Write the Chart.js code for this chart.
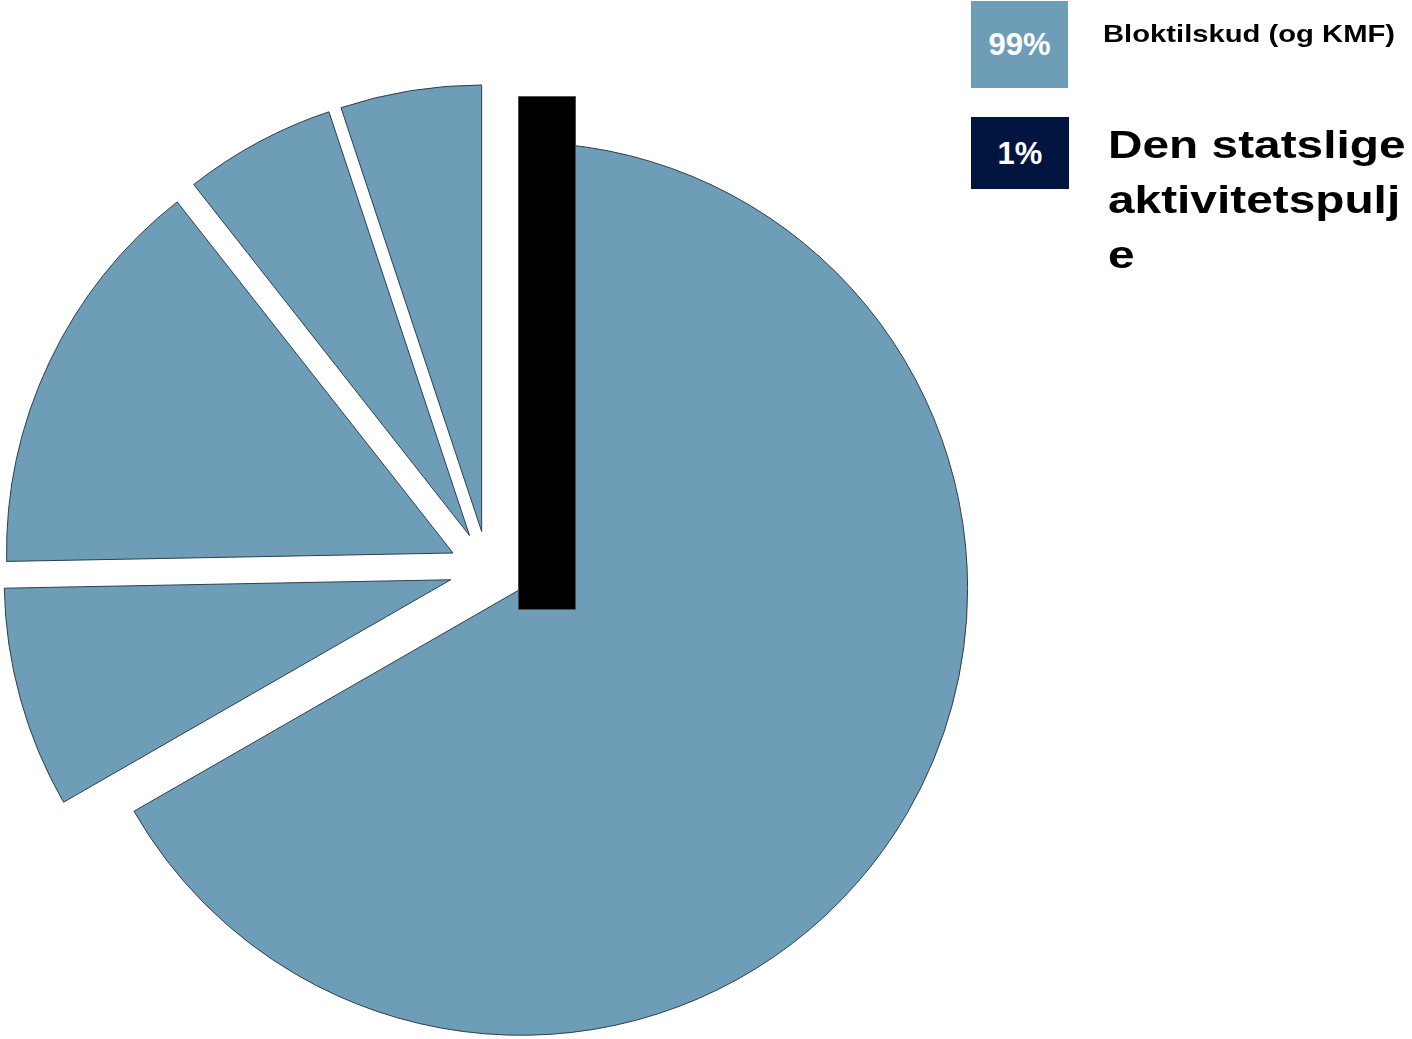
<!DOCTYPE html>
<html>
<head>
<meta charset="utf-8">
<script src="https://cdn.jsdelivr.net/npm/chart.js@4.4.1/dist/chart.umd.min.js"></script>
<style>
  html, body { margin: 0; padding: 0; background: #ffffff; }
  body { width: 1412px; height: 1039px; overflow: hidden; position: relative;
         font-family: "Liberation Sans", Arial, sans-serif; }
  #pie { position: absolute; left: 0; top: 0; }
  #pool { position: absolute; left: 518px; top: 96px; }
  .sq { position: absolute; display: flex; align-items: center; justify-content: center;
        color: #ffffff; font-weight: bold; font-size: 31px; line-height: 1; }
  .lbl { position: absolute; font-weight: bold; color: #000000; transform-origin: 0 0;
         overflow-wrap: anywhere; word-break: break-word; }
</style>
</head>
<body>
<canvas id="pie" width="1412" height="1039"></canvas>
<canvas id="pool" width="58" height="514"></canvas>
<div id="legend"></div>
<script>
// ---- data ----
const sliceLabels = ['Del 1', 'Del 2', 'Del 3', 'Del 4', 'Del 5'];
const sliceValues = [66.7, 8.0, 14.7, 5.5, 5.1];
const poolLabels = ['Den statslige aktivitetspulje'];
const poolValues = [1];
const legendLabels = ['Bloktilskud (og KMF)', 'Den statslige aktivitetspulje'];
const legendShares = ['99%', '1%'];

// ---- styles ----
const SLICE_BLUE = '#6E9DB7';
const NAVY = '#001440';
const legendColors = [SLICE_BLUE, NAVY];
const legendLayout = [
  { sq: { left: 971, top: 1, w: 97, h: 87 },  lbl: { left: 1103, top: 22, size: 24, lh: 24, width: 400, sx: 1.217 } },
  { sq: { left: 971, top: 117, w: 98, h: 72 }, lbl: { left: 1107.5, top: 117, size: 39.5, lh: 55, width: 248, sx: 1.21 } }
];
const EXPLODE = 38.5;

// explode each slice along its bisector by the same distance
const explodePlugin = {
  id: 'explode',
  afterDatasetsUpdate(chart) {
    chart.getDatasetMeta(0).data.forEach(arc => {
      const mid = (arc.startAngle + arc.endAngle) / 2;
      arc.x += EXPLODE * Math.cos(mid);
      arc.y += EXPLODE * Math.sin(mid);
    });
  }
};

new Chart(document.getElementById('pie'), {
  type: 'pie',
  data: {
    labels: sliceLabels,
    datasets: [{
      data: sliceValues,
      backgroundColor: SLICE_BLUE,
      borderColor: '#2C3E4E',
      borderWidth: 1,
      clip: false
    }]
  },
  options: {
    responsive: false,
    animation: false,
    events: [],
    radius: 446.5,
    layout: { padding: { left: 0, right: 436.4, top: 100, bottom: 0 } },
    plugins: { legend: { display: false }, tooltip: { enabled: false } }
  },
  plugins: [explodePlugin]
});

new Chart(document.getElementById('pool'), {
  type: 'bar',
  data: {
    labels: poolLabels,
    datasets: [{
      data: poolValues,
      backgroundColor: '#000000',
      borderColor: '#707070',
      borderWidth: 1,
      borderSkipped: false,
      barPercentage: 1,
      categoryPercentage: 1
    }]
  },
  options: {
    responsive: false,
    animation: false,
    events: [],
    layout: { padding: 0 },
    scales: {
      x: { display: false },
      y: { display: false, min: 0, max: 1 }
    },
    plugins: { legend: { display: false }, tooltip: { enabled: false } }
  }
});

// legend built from the arrays
const legend = document.getElementById('legend');
legendLabels.forEach((label, i) => {
  const L = legendLayout[i];
  const sq = document.createElement('div');
  sq.className = 'sq';
  Object.assign(sq.style, {
    left: L.sq.left + 'px', top: L.sq.top + 'px',
    width: L.sq.w + 'px', height: L.sq.h + 'px',
    background: legendColors[i]
  });
  sq.textContent = legendShares[i];
  legend.appendChild(sq);

  const lb = document.createElement('div');
  lb.className = 'lbl';
  Object.assign(lb.style, {
    left: L.lbl.left + 'px', top: L.lbl.top + 'px',
    fontSize: L.lbl.size + 'px', lineHeight: L.lbl.lh + 'px',
    width: L.lbl.width + 'px',
    transform: 'scaleX(' + L.lbl.sx + ')'
  });
  lb.textContent = label;
  legend.appendChild(lb);
});
</script>
</body>
</html>
